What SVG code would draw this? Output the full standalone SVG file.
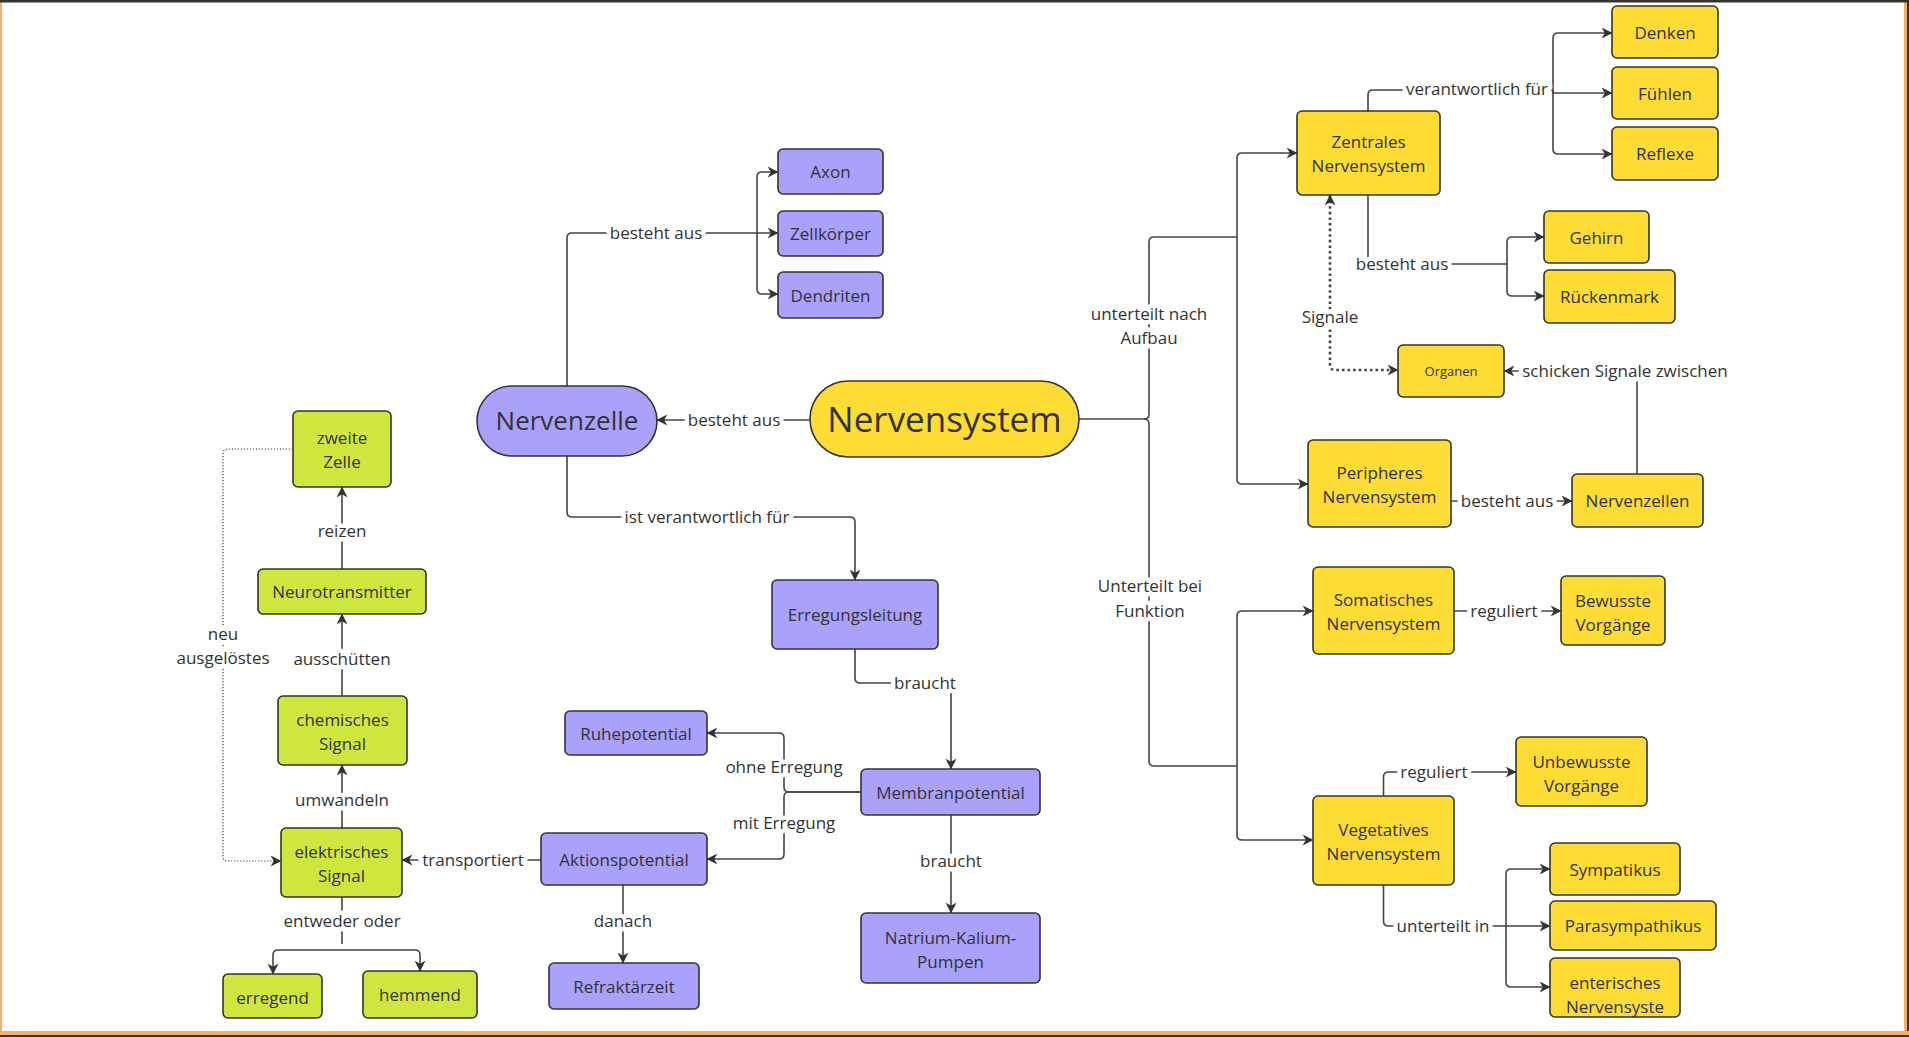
<svg xmlns="http://www.w3.org/2000/svg" width="1909" height="1037" viewBox="0 0 1909 1037">
<defs>
<style>
.n{stroke:#333;stroke-width:1.6}
.p{fill:#A9A1FA}
.y{fill:#FDDC36}
.g{fill:#CFE63F}
.t{font-family:"Open Sans","Noto Sans","Liberation Sans",sans-serif;font-size:17px;fill:#333;text-anchor:middle;dominant-baseline:central}
.l{font-family:"Open Sans","Noto Sans","Liberation Sans",sans-serif;font-size:17px;fill:#333;text-anchor:middle;dominant-baseline:central;stroke:#fff;stroke-width:9;stroke-linejoin:round;paint-order:stroke}
.c{fill:none;stroke:#444;stroke-width:1.6}
.a{marker-end:url(#ah)}
.d{fill:none;stroke:#444;stroke-width:1.2;stroke-dasharray:1.2 1.8}
.dd{fill:none;stroke:#444;stroke-width:2.6;stroke-dasharray:2.6 3}
</style>
<marker id="ah" viewBox="0 0 10 10" refX="9.5" refY="5" markerWidth="11" markerHeight="11" markerUnits="userSpaceOnUse" orient="auto-start-reverse">
<path d="M0,0 L10,5 L0,10 L3,5 z" fill="#333"/>
</marker>
</defs>
<rect x="0" y="0" width="1909" height="1037" fill="#fff"/>
<rect x="0" y="0" width="2" height="1037" fill="#F7B065"/>
<rect x="1904" y="0" width="3" height="1037" fill="#F7B065"/>
<rect x="1907" y="0" width="2" height="1037" fill="#333"/>
<rect x="0" y="1031" width="1909" height="4" fill="#F7B065"/>
<rect x="0" y="1035" width="1909" height="2" fill="#333"/>
<rect x="0" y="0" width="1909" height="2.5" fill="#333"/>

<g id="connectors">
<path class="c a" d="M810 420 H657"/>
<path class="c a" d="M567 386 V238 Q567 233 572 233 H778"/>
<path class="c a" d="M757 233 V177 Q757 172 762 172 H778"/>
<path class="c a" d="M757 233 V289 Q757 294 762 294 H778"/>
<path class="c a" d="M567 456 V512 Q567 517 572 517 H850 Q855 517 855 522 V580"/>
<path class="c a" d="M855 649 V678 Q855 683 860 683 H946 Q951 683 951 688 V769"/>
<path class="c a" d="M861 792 H789 Q784 792 784 787 V738 Q784 733 779 733 H707"/>
<path class="c a" d="M861 792 H789 Q784 792 784 797 V854 Q784 859 779 859 H707"/>
<path class="c a" d="M951 815 V913"/>
<path class="c a" d="M623 885 V963"/>
<path class="c a" d="M541 860 H402"/>
<path class="c a" d="M342 828 V765"/>
<path class="c a" d="M342 696 V614"/>
<path class="c a" d="M342 569 V487"/>
<path class="d a" d="M293 449 H228 Q223 449 223 454 V856 Q223 861 228 861 H281"/>
<path class="c" d="M342 897 V944"/>
<path class="c a" d="M342 950 H278 Q273 950 273 955 V974"/>
<path class="c a" d="M342 950 H415 Q420 950 420 955 V971"/>
<path class="c" d="M1079 419 H1144 Q1149 419 1149 414 V242 Q1149 237 1154 237 H1237"/>
<path class="c a" d="M1237 237 V158 Q1237 153 1242 153 H1297"/>
<path class="c a" d="M1237 237 V479 Q1237 484 1242 484 H1308"/>
<path class="c" d="M1144 419 Q1149 419 1149 424 V761 Q1149 766 1154 766 H1237"/>
<path class="c a" d="M1237 766 V616 Q1237 611 1242 611 H1313"/>
<path class="c a" d="M1237 766 V835 Q1237 840 1242 840 H1313"/>
<path class="c" d="M1368 111 V95 Q1368 90 1373 90 H1553"/>
<path class="c a" d="M1553 93 V38 Q1553 33 1558 33 H1612"/>
<path class="c a" d="M1553 90 V93 H1612"/>
<path class="c a" d="M1553 93 V149 Q1553 154 1558 154 H1612"/>
<path class="c" d="M1368 195 V259 Q1368 264 1373 264 H1507"/>
<path class="c a" d="M1507 264 V242 Q1507 237 1512 237 H1544"/>
<path class="c a" d="M1507 264 V291 Q1507 296 1512 296 H1544"/>
<path class="dd" d="M1330 195 V365 Q1330 370 1335 370 H1398" marker-start="url(#ah)" marker-end="url(#ah)"/>
<path class="c a" d="M1637 474 V376 Q1637 371 1632 371 H1504"/>
<path class="c a" d="M1451 501 H1572"/>
<path class="c a" d="M1454 611 H1561"/>
<path class="c a" d="M1383.5 796 V777 Q1383.5 772 1388.5 772 H1516"/>
<path class="c" d="M1383.5 885 V921 Q1383.5 926 1388.5 926 H1506"/>
<path class="c a" d="M1506 926 V874 Q1506 869 1511 869 H1550"/>
<path class="c a" d="M1506 926 H1550"/>
<path class="c a" d="M1506 926 V982 Q1506 987 1511 987 H1550"/>

<text class="l" x="734" y="419">besteht aus</text>
<text class="l" x="656" y="232">besteht aus</text>
<text class="l" x="707" y="516">ist verantwortlich für</text>
<text class="l" x="925" y="682">braucht</text>
<text class="l" x="784" y="766">ohne Erregung</text>
<text class="l" x="784" y="822">mit Erregung</text>
<text class="l" x="951" y="860">braucht</text>
<text class="l" x="623" y="920">danach</text>
<text class="l" x="473" y="859">transportiert</text>
<text class="l" x="342" y="799">umwandeln</text>
<text class="l" x="342" y="658">ausschütten</text>
<text class="l" x="342" y="530">reizen</text>
<text class="l" x="223" y="633">neu</text>
<text class="l" x="223" y="657">ausgelöstes</text>
<text class="l" x="342" y="920">entweder oder</text>
<text class="l" x="1149" y="313">unterteilt nach</text>
<text class="l" x="1149" y="337">Aufbau</text>
<text class="l" x="1150" y="585">Unterteilt bei</text>
<text class="l" x="1150" y="610">Funktion</text>
<text class="l" x="1477" y="88">verantwortlich für</text>
<text class="l" x="1402" y="263">besteht aus</text>
<text class="l" x="1330" y="316">Signale</text>
<text class="l" x="1625" y="370">schicken Signale zwischen</text>
<text class="l" x="1507" y="500">besteht aus</text>
<text class="l" x="1504" y="610">reguliert</text>
<text class="l" x="1434" y="771">reguliert</text>
<text class="l" x="1443" y="925">unterteilt in</text>
</g>

<g id="nervensystem"><rect class="n y" x="810" y="381" width="269" height="76" rx="38"/><text class="t" x="944.5" y="418" style="font-size:35px">Nervensystem</text></g>
<g id="nervenzelle"><rect class="n p" x="477" y="386" width="180" height="70" rx="35"/><text class="t" x="567" y="420" style="font-size:26px">Nervenzelle</text></g>
<g id="axon"><rect class="n p" x="778" y="149" width="105" height="45" rx="5"/><text class="t" x="830.5" y="171.5">Axon</text></g>
<g id="zellkoerper"><rect class="n p" x="778" y="211" width="105" height="45" rx="5"/><text class="t" x="830.5" y="233.5">Zellkörper</text></g>
<g id="dendriten"><rect class="n p" x="778" y="272" width="105" height="46" rx="5"/><text class="t" x="830.5" y="295">Dendriten</text></g>
<g id="erregungsleitung"><rect class="n p" x="772" y="580" width="166" height="69" rx="5"/><text class="t" x="855" y="614.5">Erregungsleitung</text></g>
<g id="membranpotential"><rect class="n p" x="861" y="769" width="179" height="46" rx="5"/><text class="t" x="950.5" y="792">Membranpotential</text></g>
<g id="ruhepotential"><rect class="n p" x="565" y="711" width="142" height="44" rx="5"/><text class="t" x="636" y="733">Ruhepotential</text></g>
<g id="aktionspotential"><rect class="n p" x="541" y="833" width="166" height="52" rx="5"/><text class="t" x="624" y="859">Aktionspotential</text></g>
<g id="refraktaerzeit"><rect class="n p" x="549" y="963" width="150" height="46" rx="5"/><text class="t" x="624" y="986">Refraktärzeit</text></g>
<g id="natrium"><rect class="n p" x="861" y="913" width="179" height="70" rx="5"/><text class="t" x="950.5" y="937">Natrium-Kalium-</text><text class="t" x="950.5" y="961">Pumpen</text></g>

<g id="zweite-zelle"><rect class="n g" x="293" y="411" width="98" height="76" rx="5"/><text class="t" x="342" y="437">zweite</text><text class="t" x="342" y="461">Zelle</text></g>
<g id="neurotransmitter"><rect class="n g" x="258" y="569" width="168" height="45" rx="5"/><text class="t" x="342" y="591.5">Neurotransmitter</text></g>
<g id="chemisches-signal"><rect class="n g" x="278" y="696" width="129" height="69" rx="5"/><text class="t" x="342.5" y="719.5">chemisches</text><text class="t" x="342.5" y="743.5">Signal</text></g>
<g id="elektrisches-signal"><rect class="n g" x="281" y="828" width="121" height="69" rx="5"/><text class="t" x="341.5" y="851">elektrisches</text><text class="t" x="341.5" y="875">Signal</text></g>
<g id="erregend"><rect class="n g" x="223" y="974" width="99" height="44" rx="5"/><text class="t" x="272.5" y="997">erregend</text></g>
<g id="hemmend"><rect class="n g" x="363" y="971" width="114" height="47" rx="5"/><text class="t" x="420" y="994.5">hemmend</text></g>

<g id="zns"><rect class="n y" x="1297" y="111" width="143" height="84" rx="5"/><text class="t" x="1368.5" y="141">Zentrales</text><text class="t" x="1368.5" y="165">Nervensystem</text></g>
<g id="denken"><rect class="n y" x="1612" y="6" width="106" height="52" rx="5"/><text class="t" x="1665" y="32">Denken</text></g>
<g id="fuehlen"><rect class="n y" x="1612" y="67" width="106" height="52" rx="5"/><text class="t" x="1665" y="93">Fühlen</text></g>
<g id="reflexe"><rect class="n y" x="1612" y="127" width="106" height="53" rx="5"/><text class="t" x="1665" y="153.5">Reflexe</text></g>
<g id="gehirn"><rect class="n y" x="1544" y="211" width="105" height="52" rx="5"/><text class="t" x="1596.5" y="237">Gehirn</text></g>
<g id="rueckenmark"><rect class="n y" x="1544" y="270" width="131" height="53" rx="5"/><text class="t" x="1609.5" y="296.5">Rückenmark</text></g>
<g id="organen"><rect class="n y" x="1398" y="345" width="106" height="52" rx="5"/><text class="t" x="1451" y="371" style="font-size:13px">Organen</text></g>
<g id="peripheres"><rect class="n y" x="1308" y="440" width="143" height="87" rx="5"/><text class="t" x="1379.5" y="472">Peripheres</text><text class="t" x="1379.5" y="496">Nervensystem</text></g>
<g id="nervenzellen"><rect class="n y" x="1572" y="474" width="131" height="53" rx="5"/><text class="t" x="1637.5" y="500.5">Nervenzellen</text></g>
<g id="somatisches"><rect class="n y" x="1313" y="567" width="141" height="87" rx="5"/><text class="t" x="1383.5" y="599">Somatisches</text><text class="t" x="1383.5" y="623">Nervensystem</text></g>
<g id="bewusste"><rect class="n y" x="1561" y="576" width="104" height="69" rx="5"/><text class="t" x="1613" y="600">Bewusste</text><text class="t" x="1613" y="624">Vorgänge</text></g>
<g id="unbewusste"><rect class="n y" x="1516" y="737" width="131" height="69" rx="5"/><text class="t" x="1581.5" y="761">Unbewusste</text><text class="t" x="1581.5" y="785">Vorgänge</text></g>
<g id="vegetatives"><rect class="n y" x="1313" y="796" width="141" height="89" rx="5"/><text class="t" x="1383.5" y="829">Vegetatives</text><text class="t" x="1383.5" y="853">Nervensystem</text></g>
<g id="sympatikus"><rect class="n y" x="1550" y="843" width="130" height="52" rx="5"/><text class="t" x="1615" y="869">Sympatikus</text></g>
<g id="parasympathikus"><rect class="n y" x="1550" y="901" width="166" height="49" rx="5"/><text class="t" x="1633" y="925.5">Parasympathikus</text></g>
<g id="enterisches"><rect class="n y" x="1550" y="958" width="130" height="59" rx="5"/><text class="t" x="1615" y="982">enterisches</text><text class="t" x="1615" y="1006">Nervensyste</text></g>
</svg>
